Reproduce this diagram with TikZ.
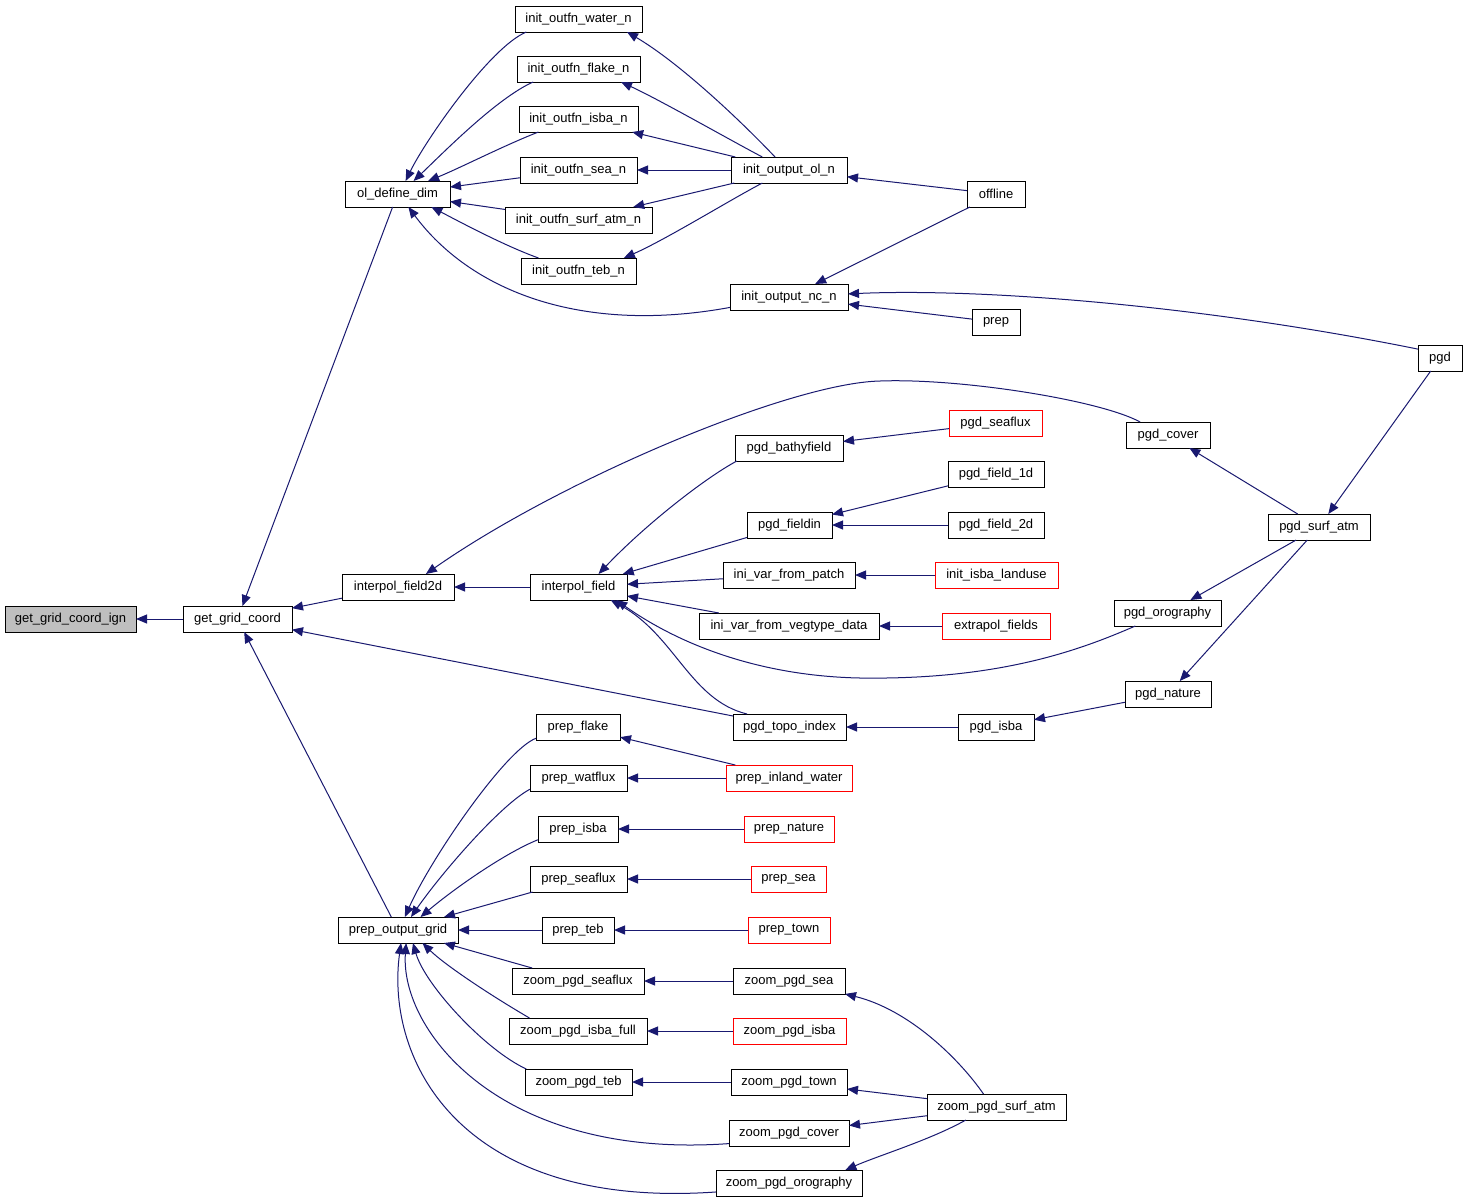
\documentclass[tikz,border=0pt]{standalone}
\usepackage{fontspec}
\setmainfont{Liberation Sans}
\usetikzlibrary{arrows.meta}
\definecolor{edgeblue}{RGB}{25,25,112}
\definecolor{nodegray}{RGB}{191,191,191}

\begin{document}
\begin{tikzpicture}[x=1pt,y=-1pt,font=\fontsize{13}{15}\selectfont,
	fn/.style={draw=black,line width=0.9pt,minimum height=26pt,inner sep=1pt,outer sep=0pt,fill=white},
	fnred/.style={fn,draw=red},
	call/.style={draw=edgeblue,line width=1pt,-{Triangle[length=11pt,width=9pt]}}]
	\fill[white] (0,0) rectangle (1467,1203);
	\useasboundingbox (0,0) rectangle (1467,1203);

	\node [fn,minimum width=131pt,fill=nodegray] at (70.5,619) (get_grid_coord_ign) {get\_grid\_coord\_ign};
	\node [fn,minimum width=109pt] at (237.5,619) (get_grid_coord) {get\_grid\_coord};
	\node [fn,minimum width=105pt] at (397.5,194) (ol_define_dim) {ol\_define\_dim};
	\node [fn,minimum width=112pt] at (398,587) (interpol_field2d) {interpol\_field2d};
	\node [fn,minimum width=120pt] at (398,930) (prep_output_grid) {prep\_output\_grid};

	\node [fn,minimum width=127pt] at (578.5,19) (init_outfn_water_n) {init\_outfn\_water\_n};
	\node [fn,minimum width=123pt] at (578.5,69) (init_outfn_flake_n) {init\_outfn\_flake\_n};
	\node [fn,minimum width=119pt] at (578.5,119) (init_outfn_isba_n) {init\_outfn\_isba\_n};
	\node [fn,minimum width=117pt] at (578.5,170) (init_outfn_sea_n) {init\_outfn\_sea\_n};
	\node [fn,minimum width=147pt] at (578.5,220) (init_outfn_surf_atm_n) {init\_outfn\_surf\_atm\_n};
	\node [fn,minimum width=115pt] at (578.5,271) (init_outfn_teb_n) {init\_outfn\_teb\_n};
	\node [fn,minimum width=116pt] at (789,170) (init_output_ol_n) {init\_output\_ol\_n};
	\node [fn,minimum width=118pt] at (789,297) (init_output_nc_n) {init\_output\_nc\_n};
	\node [fn,minimum width=58pt] at (996,194) (offline) {offline};
	\node [fn,minimum width=48pt] at (996,322) (prep) {prep};
	\node [fn,minimum width=44pt] at (1440,358) (pgd) {pgd};

	\node [fn,minimum width=84pt] at (1168,435) (pgd_cover) {pgd\_cover};
	\node [fnred,minimum width=93pt] at (995.5,423) (pgd_seaflux) {pgd\_seaflux};
	\node [fn,minimum width=108pt] at (789,448) (pgd_bathyfield) {pgd\_bathyfield};
	\node [fn,minimum width=96pt] at (996,474) (pgd_field_1d) {pgd\_field\_1d};
	\node [fn,minimum width=85pt] at (789.5,525) (pgd_fieldin) {pgd\_fieldin};
	\node [fn,minimum width=96pt] at (996,525) (pgd_field_2d) {pgd\_field\_2d};
	\node [fn,minimum width=97pt] at (578.5,587) (interpol_field) {interpol\_field};
	\node [fn,minimum width=132pt] at (789,575) (ini_var_from_patch) {ini\_var\_from\_patch};
	\node [fnred,minimum width=123pt] at (996.5,575) (init_isba_landuse) {init\_isba\_landuse};
	\node [fn,minimum width=180pt] at (789,626) (ini_var_from_vegtype_data) {ini\_var\_from\_vegtype\_data};
	\node [fnred,minimum width=108pt] at (996,626) (extrapol_fields) {extrapol\_fields};
	\node [fn,minimum width=107pt] at (1167.5,613) (pgd_orography) {pgd\_orography};
	\node [fn,minimum width=102pt] at (1319,527) (pgd_surf_atm) {pgd\_surf\_atm};
	\node [fn,minimum width=86pt] at (1168,694) (pgd_nature) {pgd\_nature};
	\node [fn,minimum width=113pt] at (789.5,727) (pgd_topo_index) {pgd\_topo\_index};
	\node [fn,minimum width=76pt] at (996,727) (pgd_isba) {pgd\_isba};

	\node [fn,minimum width=84pt] at (578,727) (prep_flake) {prep\_flake};
	\node [fn,minimum width=97pt] at (578.5,778) (prep_watflux) {prep\_watflux};
	\node [fnred,minimum width=126pt] at (789,778) (prep_inland_water) {prep\_inland\_water};
	\node [fn,minimum width=80pt] at (578,829) (prep_isba) {prep\_isba};
	\node [fnred,minimum width=90pt] at (789,829) (prep_nature) {prep\_nature};
	\node [fn,minimum width=97pt] at (578.5,879) (prep_seaflux) {prep\_seaflux};
	\node [fnred,minimum width=75pt] at (788.5,879) (prep_sea) {prep\_sea};
	\node [fn,minimum width=72pt] at (578,930) (prep_teb) {prep\_teb};
	\node [fnred,minimum width=82pt] at (789,930) (prep_town) {prep\_town};
	\node [fn,minimum width=132pt] at (578,981) (zoom_pgd_seaflux) {zoom\_pgd\_seaflux};
	\node [fn,minimum width=112pt] at (789,981) (zoom_pgd_sea) {zoom\_pgd\_sea};
	\node [fn,minimum width=138pt] at (578,1031) (zoom_pgd_isba_full) {zoom\_pgd\_isba\_full};
	\node [fnred,minimum width=113pt] at (789.5,1031) (zoom_pgd_isba) {zoom\_pgd\_isba};
	\node [fn,minimum width=107pt] at (578.5,1082) (zoom_pgd_teb) {zoom\_pgd\_teb};
	\node [fn,minimum width=116pt] at (789,1082) (zoom_pgd_town) {zoom\_pgd\_town};
	\node [fn,minimum width=120pt] at (789,1133) (zoom_pgd_cover) {zoom\_pgd\_cover};
	\node [fn,minimum width=139pt] at (996.5,1107) (zoom_pgd_surf_atm) {zoom\_pgd\_surf\_atm};
	\node [fn,minimum width=146pt] at (789,1183) (zoom_pgd_orography) {zoom\_pgd\_orography};

	\draw[call] (get_grid_coord) -- (get_grid_coord_ign);
	\draw[call] (ol_define_dim) -- (get_grid_coord);
	\draw[call] (interpol_field2d) -- (get_grid_coord);
	\draw[call] (prep_output_grid) -- (get_grid_coord);
	\draw[call] (pgd_topo_index) -- (get_grid_coord);

	\draw[call] (init_outfn_water_n.-166) .. controls (490,47) and (425,141) .. (ol_define_dim.58);
	\draw[call] (init_outfn_flake_n.-164) .. controls (497,98) and (443,153) .. (ol_define_dim.39);
	\draw[call] (init_outfn_isba_n.-162) .. controls (505,145) and (460,168) .. (ol_define_dim.23);
	\draw[call] (init_outfn_sea_n) -- (ol_define_dim);
	\draw[call] (init_outfn_surf_atm_n) -- (ol_define_dim);
	\draw[call] (init_outfn_teb_n.162) .. controls (505,246) and (460,222) .. (ol_define_dim.-21);
	\draw[call] (init_output_nc_n.-170) .. controls (580,335) and (470,290) .. (ol_define_dim.-50);

	\draw[call] (init_output_ol_n.137) .. controls (737,117) and (678,62) .. (init_outfn_water_n.-15);
	\draw[call] (init_output_ol_n.154) .. controls (730,140) and (660,100) .. (init_outfn_flake_n.-17);
	\draw[call] (init_output_ol_n) -- (init_outfn_isba_n);
	\draw[call] (init_output_ol_n) -- (init_outfn_sea_n);
	\draw[call] (init_output_ol_n) -- (init_outfn_surf_atm_n);
	\draw[call] (init_output_ol_n.-154) .. controls (730,200) and (665,240) .. (init_outfn_teb_n.16);
	\draw[call] (offline) -- (init_output_ol_n);
	\draw[call] (offline) -- (init_output_nc_n);
	\draw[call] (prep) -- (init_output_nc_n);
	\draw[call] (pgd.158) .. controls (1200,305) and (980,288) .. (init_output_nc_n.3);
	\draw[call] (pgd) -- (pgd_surf_atm);

	\draw[call] (pgd_surf_atm) -- (pgd_cover);
	\draw[call] (pgd_surf_atm) -- (pgd_orography);
	\draw[call] (pgd_surf_atm) -- (pgd_nature);
	\draw[call] (pgd_cover.155) .. controls (1100,400) and (960,378) .. (880,381) .. controls (790,383) and (560,480) .. (interpol_field2d.25);
	\draw[call] (interpol_field) -- (interpol_field2d);
	\draw[call] (pgd_bathyfield.-166) .. controls (705,478) and (645,525) .. (interpol_field.33);
	\draw[call] (pgd_fieldin) -- (interpol_field);
	\draw[call] (ini_var_from_patch) -- (interpol_field);
	\draw[call] (ini_var_from_vegtype_data) -- (interpol_field);
	\draw[call] (pgd_orography.-158) .. controls (1080,650) and (1000,680) .. (860,678) .. controls (760,676) and (680,645) .. (interpol_field.-19);
	\draw[call] (pgd_topo_index.163) .. controls (690,700) and (675,635) .. (interpol_field.-22);
	\draw[call] (pgd_seaflux) -- (pgd_bathyfield);
	\draw[call] (pgd_field_1d) -- (pgd_fieldin);
	\draw[call] (pgd_field_2d) -- (pgd_fieldin);
	\draw[call] (init_isba_landuse) -- (ini_var_from_patch);
	\draw[call] (extrapol_fields) -- (ini_var_from_vegtype_data);
	\draw[call] (pgd_nature) -- (pgd_isba);
	\draw[call] (pgd_isba) -- (pgd_topo_index);

	\draw[call] (prep_flake.-165) .. controls (505,750) and (430,860) .. (prep_output_grid.62);
	\draw[call] (prep_watflux.-167) .. controls (500,805) and (440,875) .. (prep_output_grid.45);
	\draw[call] (prep_isba.-165) .. controls (505,853) and (455,888) .. (prep_output_grid.30);
	\draw[call] (prep_seaflux) -- (prep_output_grid);
	\draw[call] (prep_teb) -- (prep_output_grid);
	\draw[call] (zoom_pgd_seaflux) -- (prep_output_grid);
	\draw[call] (zoom_pgd_isba_full.165) .. controls (490,995) and (445,965) .. (prep_output_grid.-28);
	\draw[call] (zoom_pgd_teb.166) .. controls (485,1050) and (425,985) .. (prep_output_grid.-41);
	\draw[call] (zoom_pgd_cover.-170) .. controls (500,1160) and (400,1030) .. (prep_output_grid.-58);
	\draw[call] (zoom_pgd_orography.-173) .. controls (460,1210) and (385,1060) .. (prep_output_grid.-77);

	\draw[call] (prep_inland_water) -- (prep_flake);
	\draw[call] (prep_inland_water) -- (prep_watflux);
	\draw[call] (prep_nature) -- (prep_isba);
	\draw[call] (prep_sea) -- (prep_seaflux);
	\draw[call] (prep_town) -- (prep_teb);
	\draw[call] (zoom_pgd_sea) -- (zoom_pgd_seaflux);
	\draw[call] (zoom_pgd_isba) -- (zoom_pgd_isba_full);
	\draw[call] (zoom_pgd_town) -- (zoom_pgd_teb);
	\draw[call] (zoom_pgd_surf_atm.135) .. controls (960,1060) and (910,1010) .. (zoom_pgd_sea.-13);
	\draw[call] (zoom_pgd_surf_atm) -- (zoom_pgd_town);
	\draw[call] (zoom_pgd_surf_atm) -- (zoom_pgd_cover);
	\draw[call] (zoom_pgd_surf_atm.-157) .. controls (930,1140) and (880,1155) .. (zoom_pgd_orography.13);
\end{tikzpicture}
\end{document}
